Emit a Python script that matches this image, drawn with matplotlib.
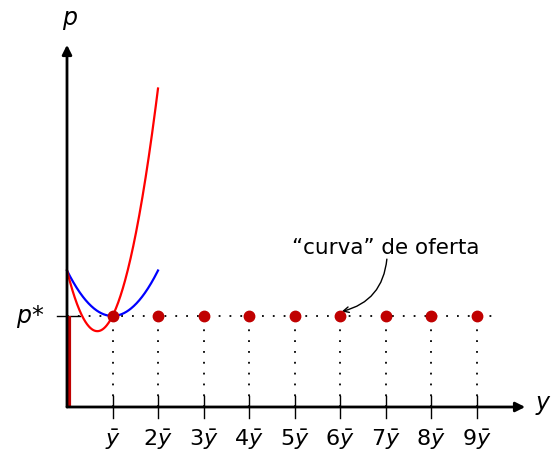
import numpy as np
import matplotlib
matplotlib.use("Agg")
import matplotlib.pyplot as plt

# Data
p_star = 2.0
multiples = [1, 2, 3, 4, 5, 6, 7, 8, 9]
tick_labels = [r"$\bar{y}$", r"$2\bar{y}$", r"$3\bar{y}$", r"$4\bar{y}$", r"$5\bar{y}$",
               r"$6\bar{y}$", r"$7\bar{y}$", r"$8\bar{y}$", r"$9\bar{y}$"]
ac_coeffs = [1.0, -2.0, 3.0]   # average cost: min p* at y = ybar
mc_coeffs = [3.0, -4.0, 3.0]   # marginal cost
curve_range = [0.0, 2.0]

plt.rcParams['mathtext.fontset'] = 'dejavusans'
plt.rcParams['font.family'] = ['DejaVu Sans']

fig = plt.figure(figsize=(5.51, 4.55), dpi=100)
ax = fig.add_axes([0, 0, 1, 1])
s = 45.5
ax.set_xlim(-67 / s, (551 - 67) / s)
ax.set_ylim(-48 / s, (455 - 48) / s)
ax.axis('off')

# axes arrows
ax.annotate('', xy=(10.07, 0), xytext=(0, 0),
            arrowprops=dict(arrowstyle='-|>', color='black', lw=2, mutation_scale=14, shrinkA=0, shrinkB=0))
ax.annotate('', xy=(0, 7.96), xytext=(0, 0),
            arrowprops=dict(arrowstyle='-|>', color='black', lw=2, mutation_scale=14, shrinkA=0, shrinkB=0))
ax.text(0.07, 8.5, r"$p$", fontsize=17, ha='center', va='center')
ax.text(10.46, 0.05, r"$y$", fontsize=17, ha='center', va='center')

# dotted guide lines
ax.plot([0, 9.5], [p_star, p_star], color='black', lw=1.3, linestyle=(0, (1, 5)))
for k in multiples:
    ax.plot([k, k], [0, p_star], color='black', lw=1.3, linestyle=(0, (1, 5)))
    ax.plot([k, k], [-0.25, 0.25], color='black', lw=1)
    ax.text(k, -0.73, tick_labels[k - 1], fontsize=16, ha='center', va='center')

# p* tick and label
ax.plot([-0.22, 0.28], [p_star, p_star], color='black', lw=1)
ax.text(-0.81, 1.98, r"$p$*", fontsize=17, ha='center', va='center')

# curves
yy = np.linspace(curve_range[0], curve_range[1], 200)
ax.plot(yy, np.polyval(ac_coeffs, yy), color='#0000ff', lw=1.6)
ax.plot(yy, np.polyval(mc_coeffs, yy), color='#ff0000', lw=1.6)

# supply: vertical segment and dots
ax.plot([0.04, 0.04], [0, p_star], color='#c00000', lw=3, solid_capstyle='butt')
ax.plot(multiples, [p_star] * len(multiples), 'o', color='#c00000', markersize=7.5, zorder=5)

# annotation
ax.text(7.0, 3.49, "\u201ccurva\u201d de oferta", fontsize=15.5, ha='center', va='center')
ax.annotate('', xy=(6.04, 2.1), xytext=(7.03, 3.25),
            arrowprops=dict(arrowstyle='->', color='black', lw=1,
                            connectionstyle='arc3,rad=-0.35', shrinkA=0, shrinkB=0))

fig.savefig('out.png', dpi=100)
